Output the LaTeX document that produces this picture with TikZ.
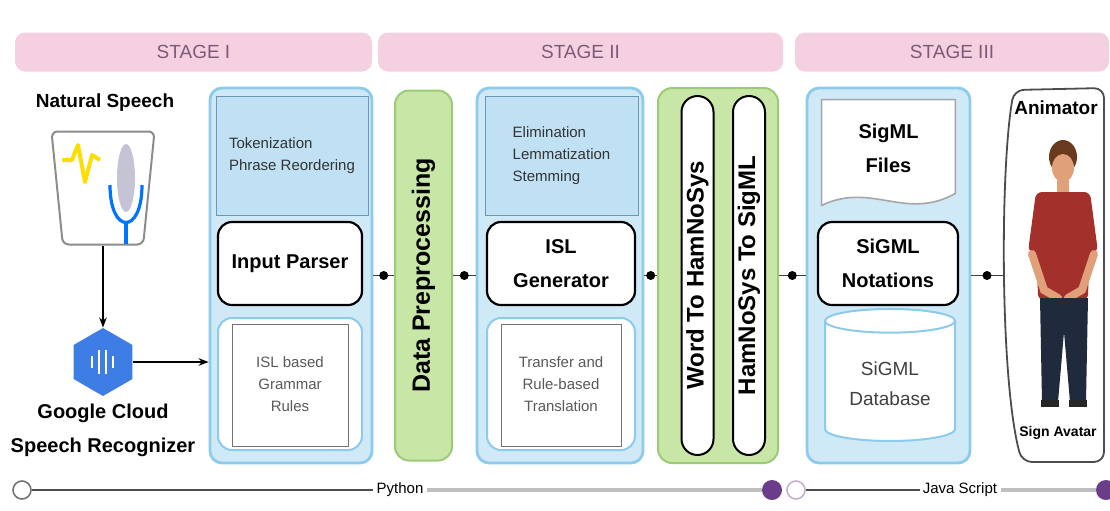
\documentclass[tikz,border=0pt]{standalone}
\usepackage{fontspec}
\setmainfont{Liberation Sans}
\usetikzlibrary{shapes.geometric,arrows.meta}

\definecolor{stagepink}{HTML}{F5D0E1}
\definecolor{stagetext}{HTML}{7E5A78}
\definecolor{panelfill}{HTML}{CFE9F7}
\definecolor{panelline}{HTML}{8CCBEB}
\definecolor{notefill}{HTML}{C0E1F4}
\definecolor{noteline}{HTML}{6C98B8}
\definecolor{greenfill}{HTML}{C8E6A6}
\definecolor{greenline}{HTML}{9CCB78}
\definecolor{gblue}{HTML}{3E7DE4}
\definecolor{dotpurple}{HTML}{6A3D8A}
\definecolor{shirt}{HTML}{A3302B}
\definecolor{jeans}{HTML}{1F2B3D}
\definecolor{skin}{HTML}{DFA07A}
\definecolor{hair}{HTML}{6A3A1E}

\tikzset{
  stagebar/.style={fill=stagepink, rounded corners=5pt, minimum height=19.5pt, text=stagetext, font=\fontsize{9.5}{11}\selectfont},
  panel/.style={draw=panelline, line width=1.4pt, fill=panelfill, rounded corners=6pt},
  note/.style={draw=noteline, line width=0.5pt, fill=notefill, text=black!80, font=\fontsize{7.5}{11}\selectfont, align=left},
  core/.style={draw=black, line width=1.1pt, fill=white, rounded corners=7pt, font=\bfseries\fontsize{10}{17}\selectfont, align=center},
  store/.style={draw=panelline, line width=1pt, fill=white, rounded corners=7pt, text=black!65, font=\fontsize{7.5}{11}\selectfont, align=center},
  greenbox/.style={draw=greenline, line width=1pt, fill=greenfill, rounded corners=7pt},
  pill/.style={draw=black, line width=1pt, fill=white, rounded corners=8pt, rotate=90, minimum width=179.5pt, minimum height=16pt, inner sep=0pt, font=\bfseries\fontsize{12}{14}\selectfont},
  innerline/.style={draw=black!55, line width=0.4pt},
  link/.style={draw=black!75, line width=0.7pt},
  hub/.style={circle, fill=black, inner sep=0pt, minimum size=4.5pt},
  ring/.style={circle, draw=black!55, fill=white, line width=0.8pt, inner sep=0pt, minimum size=9pt},
  pdot/.style={circle, fill=dotpurple, inner sep=0pt, minimum size=10pt},
  tag/.style={font=\fontsize{7.5}{9}\selectfont, inner sep=1.5pt},
  flow/.style={draw=black, line width=0.9pt, -{Stealth[length=5pt]}},
  label/.style={font=\bfseries\fontsize{10}{17}\selectfont, align=center}
}

\begin{document}
\begin{tikzpicture}[x=0.5pt, y=-0.5pt]
  \useasboundingbox (0,0) rectangle (1110,510);

  \node[stagebar, minimum width=178.5pt] (st1) at (193.5,52) {STAGE I};
  \node[stagebar, minimum width=202.5pt] (st2) at (580.5,52) {STAGE II};
  \node[stagebar, minimum width=157pt] (st3) at (952,52) {STAGE III};

  \node[label, font=\bfseries\fontsize{9.5}{11}\selectfont] (speech) at (105,103) {Natural Speech};
  \node[trapezium, trapezium angle=82, trapezium stretches=true, shape border rotate=180,
        draw=black!45, line width=1pt, rounded corners=3pt, minimum width=51.5pt, minimum height=56.5pt] (mic) at (103,188) {};
  \draw[yellow!80!orange, line width=2pt, line join=round] (62,160) -- (72,160) -- (78,145) -- (85,182) -- (92,155) -- (100,160);
  \fill[blue!15!gray!40] (126,178) ellipse [x radius=9, y radius=34];
  \draw[blue!55!cyan, line width=1.6pt] (110,185) .. controls (110,235) and (142,235) .. (142,185);
  \draw[blue!55!cyan, line width=1.6pt] (126,222) -- (126,244);

  \node[regular polygon, regular polygon sides=6, shape border rotate=30, fill=gblue, minimum size=34pt, inner sep=0pt] (gcloud) at (103,362) {};
  \foreach \dx/\h in {-11/6,-4/12,3/12,10/6}
    \draw[white, line width=1.4pt] ({103+\dx},{362-\h}) -- ({103+\dx},{362+\h});
  \node[label] (gclbl) at (103,430) {Google Cloud\\Speech Recognizer};

  \draw[flow] (mic.south) -- (gcloud.north);

  % stage I
  \node[panel, minimum width=81pt, minimum height=187.5pt] (s1) at (291,275.5) {};
  \node[note, minimum width=76pt, minimum height=59.5pt] (tok) at (292,155.5) {Tokenization\\Phrase Reordering};
  \node[core, minimum width=72pt, minimum height=41.5pt] (parser) at (290,263.5) {Input Parser};
  \node[store, minimum width=72pt, minimum height=66pt] (rules) at (290,384) {ISL based\\Grammar\\Rules};

  \draw[flow] (gcloud.east) -- (s1.west |- gcloud);

  \node[greenbox, rotate=90, minimum width=185pt, minimum height=28.5pt, font=\bfseries\fontsize{12.5}{14}\selectfont] (prep) at (423.5,275.5) {Data Preprocessing};

  % stage II
  \node[panel, minimum width=83pt, minimum height=187.5pt] (s2) at (560,275.5) {};
  \node[note, minimum width=76.5pt, minimum height=59.5pt] (clean) at (561.5,155.5) {Elimination\\Lemmatization\\Stemming};
  \node[core, minimum width=74pt, minimum height=41.5pt] (islgen) at (561,263.5) {ISL\\Generator};
  \node[store, minimum width=74pt, minimum height=66pt] (transfer) at (561,384) {Transfer and\\Rule-based\\Translation};

  \foreach \n in {rules,transfer}
    \draw[innerline] ([xshift=7.5pt,yshift=-3.5pt]\n.north west) rectangle ([xshift=-7.5pt,yshift=2.5pt]\n.south east);

  \node[greenbox, minimum width=60pt, minimum height=187.5pt] (hn) at (718,275.5) {};
  \node[pill] (w2h) at (697.5,275.5) {Word To HamNoSys};
  \node[pill] (h2s) at (749,275.5) {HamNoSys To SigML};

  % stage III
  \node[panel, minimum width=81.5pt, minimum height=187.5pt] (s3) at (888.5,275.5) {};
  \node[minimum width=66.5pt, minimum height=52.5pt, inner sep=0pt] (files) at (888.5,152.5) {};
  \filldraw[draw=black!35, fill=white, line width=0.8pt] (files.north west) -- (files.north east) -- ([yshift=6pt]files.south east)
    .. controls ([xshift=-25pt,yshift=-8pt]files.south east) and ([xshift=25pt,yshift=12pt]files.south west) .. (files.south west) -- cycle;
  \node[label] (fileslbl) at (888.5,148) {SigML\\Files};
  \node[core, minimum width=70pt, minimum height=41.5pt] (notation) at (888,263.5) {SiGML\\Notations};
  \node[cylinder, shape border rotate=90, aspect=0.25, draw=panelline, line width=1pt, fill=white,
        minimum width=65pt, minimum height=66pt, text=black!75, align=center,
        font=\fontsize{9.5}{15}\selectfont] (sigdb) at (890,384) {SiGML\\Database};

  % avatar
  \node[minimum width=49.5pt, minimum height=187pt, inner sep=0pt] (anim) at (1052.5,275.5) {};
  \draw[black!70, line width=0.9pt, rounded corners=5pt] (1104,275) -- (1104,462) -- (1022,462)
    .. controls (1000,380) and (1000,170) .. (1014,90) -- (1104,88) -- cycle;
  \node[font=\bfseries\fontsize{9.5}{11}\selectfont] (animlbl) at (1056,108) {Animator};
  \node[font=\bfseries\fontsize{7}{8}\selectfont] (avatar) at (1058,433) {Sign Avatar};

  \fill[hair] (1063,157) ellipse [x radius=14, y radius=17];
  \fill[skin] (1063,168) ellipse [x radius=11, y radius=14];
  \fill[skin] (1057,180) rectangle (1069,196);
  \fill[shirt, rounded corners=3pt] (1036,192) -- (1090,192) -- (1098,252) -- (1089,254) -- (1088,300) -- (1038,300) -- (1037,254) -- (1028,252) -- cycle;
  \draw[skin, line width=4pt, line cap=round] (1032,254) -- (1044,290) -- (1058,298);
  \draw[skin, line width=4pt, line cap=round] (1094,254) -- (1082,290) -- (1068,298);
  \fill[jeans] (1040,298) -- (1088,298) -- (1086,402) -- (1070,402) -- (1064,332) -- (1058,402) -- (1042,402) -- cycle;
  \fill[black!85] (1041,400) rectangle (1059,407);
  \fill[black!85] (1069,400) rectangle (1087,407);

  % links between the stages
  \draw[link] (s1.east) -- node[hub] {} (prep.north);
  \draw[link] (prep.south) -- node[hub] {} (s2.west);
  \draw[link] (s2.east) -- node[hub] {} (hn.west);
  \draw[link] (hn.east) -- node[hub] {} (s3.west);
  \draw[link] (s3.east) -- node[hub] {} (anim.west);

  % language timeline
  \node[ring] (t0) at (22,490) {};
  \node[tag] (py) at (400,490) {Python};
  \node[pdot] (t1) at (772,490) {};
  \node[ring, draw=dotpurple!40] (t2) at (796,490) {};
  \node[tag] (js) at (960,490) {Java Script};
  \node[pdot] (t3) at (1106,490) {};
  \draw[black!70, line width=1pt] (t0) -- (py);
  \draw[black!25, line width=2pt] (py) -- (t1);
  \draw[black!70, line width=1pt] (t2) -- (js);
  \draw[black!25, line width=2pt] (js) -- (t3);
\end{tikzpicture}
\end{document}
